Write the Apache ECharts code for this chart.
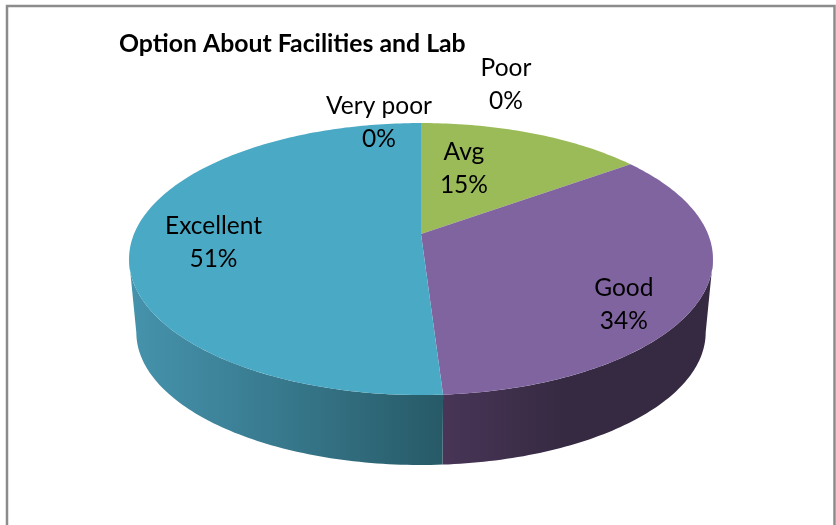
<!DOCTYPE html>
<html><head><meta charset="utf-8">
<style>html,body{margin:0;padding:0;background:#fff}#c{width:836px;height:525px}</style>
<script src="https://cdn.jsdelivr.net/npm/echarts@6/dist/echarts.min.js"></script>
</head><body><div id="c"></div>
<script>
var categories = ['Avg', 'Good', 'Excellent', 'Very poor', 'Poor'];
var values = [15, 34, 51, 0, 0];
var chartTitle = 'Option About Facilities and Lab';

// styling and layout
var topColors = ['#9BBB59', '#8064A0', '#4AA9C4', '#4F81BD', '#C0504D'];
var wallStops = [
  null,
  [[0, '#483557'], [0.45, '#362A42'], [1, '#362A42']],
  [[0, '#4693AD'], [0.5, '#37788C'], [1, '#275A67']],
  null, null
];
var labelOffsets = [[-69, 35], [-79, 10], [81, 4.5], [-42, -0.5], [85, -38.5]];
var FONT = 'Lato';
var apex = {x: 421, y: 234}, A = 287, B = 131.4, K = -0.184;
var bottomScale = 0.975, bottomY = 308;
var total = values.reduce(function (a, b) { return a + b; }, 0);
var starts = [];
values.reduce(function (acc, v, i) { starts[i] = acc; return acc + v; }, 0);

function rim(theta, scale, cy) {
  var u = Math.sin(theta), v = -Math.cos(theta), d = 1 + K * v;
  return [apex.x + scale * A * u / d, cy + scale * B * v / d];
}
function arcPoints(a0, a1, scale, cy) {
  var pts = [], n = Math.max(2, Math.ceil((a1 - a0) / (Math.PI / 180)));
  for (var i = 0; i <= n; i++) pts.push(rim(a0 + (a1 - a0) * i / n, scale, cy));
  return pts;
}
var visFrom = Math.acos(K), visTo = 2 * Math.PI - Math.acos(K);

function renderItem(params, api) {
  var i = params.dataIndex, val = api.value(0);
  var a0 = starts[i] / total * 2 * Math.PI, a1 = (starts[i] + val) / total * 2 * Math.PI;
  var children = [];
  if (val > 0) {
    var w0 = Math.max(a0, visFrom), w1 = Math.min(a1, visTo);
    if (w1 > w0 && wallStops[i]) {
      var t = arcPoints(w0, w1, 1, apex.y), b = arcPoints(w0, w1, bottomScale, bottomY).reverse();
      var xs = t.concat(b).map(function (p) { return p[0]; });
      var x0 = Math.min.apply(null, xs), x1 = Math.max.apply(null, xs);
      var stops = wallStops[i].map(function (s) { return {offset: s[0], color: s[1]}; });
      children.push({type: 'polygon', z2: 1, shape: {points: t.concat(b)},
        style: {fill: new echarts.graphic.LinearGradient(x0, 0, x1, 0, stops, true)}});
    }
    children.push({type: 'polygon', z2: 2,
      shape: {points: [[apex.x, apex.y]].concat(arcPoints(a0, a1, 1, apex.y))},
      style: {fill: topColors[i]}});
  }
  var mid = rim((a0 + a1) / 2, 1, apex.y), off = labelOffsets[i];
  children.push({type: 'text', z2: 5, style: {
    text: categories[i] + '\n' + Math.round(val / total * 100) + '%',
    x: mid[0] + off[0], y: mid[1] + off[1], align: 'center', verticalAlign: 'middle',
    fontFamily: FONT, fontSize: 24.5, lineHeight: 33, fill: '#000'}});
  return {type: 'group', children: children};
}

var chart = echarts.init(document.getElementById('c'), null, {renderer: 'canvas'});
chart.setOption({
  animation: false,
  backgroundColor: '#fff',
  title: {text: chartTitle, left: 114, top: 27,
    textStyle: {fontFamily: FONT, fontWeight: 'bold', fontSize: 24.8, color: '#000'}},
  graphic: [
    {type: 'polyline', silent: true,
     shape: {points: [[7, 525], [7, 6], [834.5, 6], [834.5, 525]]},
     style: {fill: null, stroke: '#8C8C8C', lineWidth: 2.5}}
  ],
  series: [{
    type: 'custom', coordinateSystem: 'none', renderItem: renderItem, silent: true,
    data: values.map(function (v, i) { return {name: categories[i], value: [v]}; })
  }]
});
</script></body></html>
